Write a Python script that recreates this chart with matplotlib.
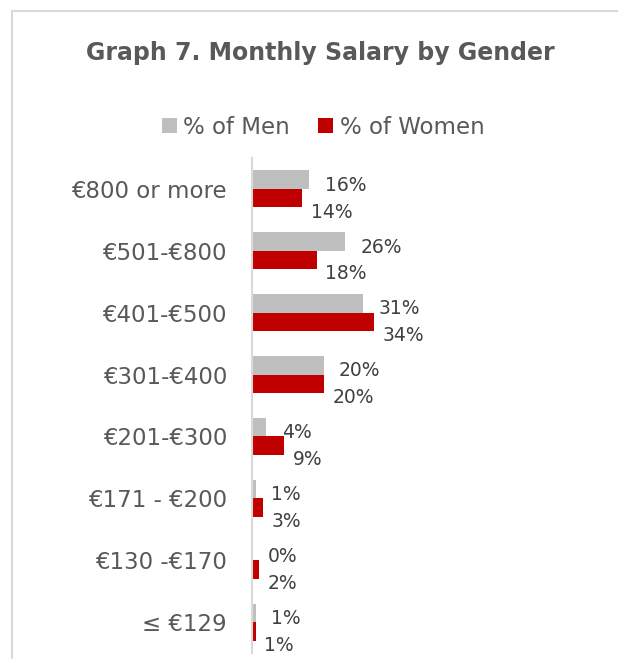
import matplotlib
matplotlib.use("Agg")
import matplotlib.pyplot as plt
from matplotlib.lines import Line2D

# Data (top to bottom)
categories = ["€800 or more", "€501-€800", "€401-€500", "€301-€400",
              "€201-€300", "€171 - €200", "€130 -€170", "≤ €129"]
men = [16, 26, 31, 20, 4, 1, 0, 1]
women = [14, 18, 34, 20, 9, 3, 2, 1]

men_color = "#bfbfbf"
women_color = "#c00000"
text_grey = "#595959"
label_grey = "#404040"
frame_grey = "#d9d9d9"

fig = plt.figure(figsize=(6.18, 6.59), dpi=100)
ax = fig.add_axes([252 / 618, 6 / 659, 348 / 618, 495 / 659])

ypos = list(range(len(categories)))
bh = 0.3
men_bars = ax.barh([y - bh / 2 for y in ypos], men, height=bh, color=men_color, label="% of Men")
women_bars = ax.barh([y + bh / 2 for y in ypos], women, height=bh, color=women_color, label="% of Women")

ax.set_ylim(len(categories) - 0.5, -0.5)
ax.set_xlim(0, 348 / 3.59)

# data labels
for y, v in zip(ypos, men):
    ax.annotate(f"{v}%", (v, y - bh / 2), xytext=(11, -4), textcoords="offset points",
                ha="left", va="center", fontsize=13.5, color=label_grey)
for y, v in zip(ypos, women):
    ax.annotate(f"{v}%", (v, y + bh / 2), xytext=(6, -10), textcoords="offset points",
                ha="left", va="center", fontsize=13.5, color=label_grey)

ax.set_yticks(ypos)
ax.set_yticklabels(categories, fontsize=16.5, color=text_grey)
ax.tick_params(axis="y", length=0, pad=18)
ax.set_xticks([])
for side in ["top", "right", "bottom"]:
    ax.spines[side].set_visible(False)
ax.spines["left"].set_color(frame_grey)
ax.spines["left"].set_linewidth(1.5)

ax.legend(handles=[men_bars, women_bars], loc="center", ncol=2, frameon=False,
          bbox_to_anchor=(323 / 618, 1 - 127 / 659), bbox_transform=fig.transFigure,
          fontsize=16.5, handlelength=0.65, handleheight=0.65, handletextpad=0.3,
          columnspacing=1.2, labelcolor=text_grey)

fig.text(320 / 618, 1 - 53 / 659, "Graph 7. Monthly Salary by Gender", ha="center", va="center",
         fontsize=17, fontweight="bold", color=text_grey)

# chart frame (top and left edges visible)
fig.add_artist(Line2D([12 / 618, 12 / 618], [0, 1 - 11 / 659], color=frame_grey, lw=1.5,
                      transform=fig.transFigure))
fig.add_artist(Line2D([12 / 618, 1], [1 - 11 / 659, 1 - 11 / 659], color=frame_grey, lw=1.5,
                      transform=fig.transFigure))

fig.savefig("out.png", dpi=100)
